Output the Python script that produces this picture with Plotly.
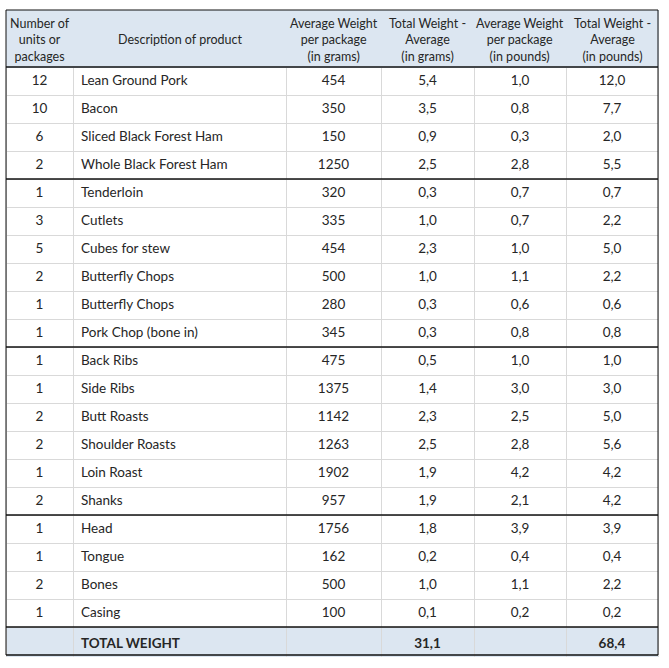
import plotly.graph_objects as go

units = [12, 10, 6, 2, 1, 3, 5, 2, 1, 1, 1, 1, 2, 2, 1, 2, 1, 1, 2, 1]
products = ["Lean Ground Pork", "Bacon", "Sliced Black Forest Ham", "Whole Black Forest Ham",
            "Tenderloin", "Cutlets", "Cubes for stew", "Butterfly Chops", "Butterfly Chops",
            "Pork Chop (bone in)", "Back Ribs", "Side Ribs", "Butt Roasts", "Shoulder Roasts",
            "Loin Roast", "Shanks", "Head", "Tongue", "Bones", "Casing"]
avg_grams = [454, 350, 150, 1250, 320, 335, 454, 500, 280, 345, 475, 1375, 1142, 1263, 1902, 957,
             1756, 162, 500, 100]
total_grams = [5.4, 3.5, 0.9, 2.5, 0.3, 1.0, 2.3, 1.0, 0.3, 0.3, 0.5, 1.4, 2.3, 2.5, 1.9, 1.9,
               1.8, 0.2, 1.0, 0.1]
avg_pounds = [1.0, 0.8, 0.3, 2.8, 0.7, 0.7, 1.0, 1.1, 0.6, 0.8, 1.0, 3.0, 2.5, 2.8, 4.2, 2.1,
              3.9, 0.4, 1.1, 0.2]
total_pounds = [12.0, 7.7, 2.0, 5.5, 0.7, 2.2, 5.0, 2.2, 0.6, 0.8, 1.0, 3.0, 5.0, 5.6, 4.2, 4.2,
                3.9, 0.4, 2.2, 0.2]
total_label = "TOTAL WEIGHT"
total_weight_grams = 31.1
total_weight_pounds = 68.4
group_ends = [4, 10, 16, 20]  # rows after which a thick separator is drawn

headers = ["Number of<br>units or<br>packages", "Description of product",
           "Average Weight<br>per package<br>(in grams)", "Total Weight -<br>Average<br>(in grams)",
           "Average Weight<br>per package<br>(in pounds)", "Total Weight -<br>Average<br>(in pounds)"]


def fmt(v):
    return f"{v:.1f}".replace(".", ",")


col_units = [str(u) for u in units] + [""]
col_prod = products + [f"<b>{total_label}</b>"]
col_avg_g = [str(v) for v in avg_grams] + [""]
col_tot_g = [fmt(v) for v in total_grams] + [f"<b>{fmt(total_weight_grams)}</b>"]
col_avg_p = [fmt(v) for v in avg_pounds] + [""]
col_tot_p = [fmt(v) for v in total_pounds] + [f"<b>{fmt(total_weight_pounds)}</b>"]

W, H = 669, 668
HDR_FILL = "#dce6f1"
TXT = "#262626"
FONT = "Lato"
n = len(units) + 1
fill_col = ["white"] * (n - 1) + [HDR_FILL]

x0, x1 = 6, 658
y_top, hdr_h, row_h = 10, 57, 28
col_w = [67, 213, 95, 93, 92, 92]

y_bottom = y_top + hdr_h + row_h * n

fig = go.Figure(go.Table(
    domain=dict(x=[x0 / W, x1 / W], y=[1 - (y_bottom + 2) / H, 1 - y_top / H]),
    columnwidth=col_w,
    header=dict(
        values=[""] * 6,
        fill_color=HDR_FILL,
        line=dict(color=HDR_FILL, width=1),
        height=hdr_h,
        font=dict(family=FONT, size=12, color=TXT),
    ),
    cells=dict(
        values=[col_units, col_prod, col_avg_g, col_tot_g, col_avg_p, col_tot_p],
        fill_color=[fill_col] * 6,
        line=dict(color="#d9d9d9", width=1),
        align=["center", "left", "center", "center", "center", "center"],
        height=row_h,
        font=dict(family=FONT, size=13.5, color=TXT),
    ),
))


def py(y):
    return 1 - y / H


# header labels, centred on each column
annotations = []
cx = x0
for w, h in zip(col_w, headers):
    annotations.append(dict(
        x=(cx + w / 2) / W, y=py(y_top + hdr_h / 2 + 1), xref="paper", yref="paper",
        text=h, showarrow=False, align="center", xanchor="center", yanchor="middle",
        font=dict(family=FONT, size=12.5, color=TXT),
    ))
    cx += w

shapes = []


def hline(y, w=1.5):
    shapes.append(dict(type="line", xref="paper", yref="paper", x0=x0 / W, x1=x1 / W,
                       y0=py(y), y1=py(y), line=dict(color="#111111", width=w)))


hline(y_top, 1)
hline(y_top + hdr_h, 1.5)
for g in group_ends:
    hline(y_top + hdr_h + row_h * g, 1.5)
hline(y_bottom, 1.5)
for xx in (x0, x1):
    shapes.append(dict(type="line", xref="paper", yref="paper", x0=xx / W, x1=xx / W,
                       y0=py(y_top), y1=py(y_bottom), line=dict(color="#111111", width=1)))

fig.update_layout(
    width=W, height=H,
    margin=dict(l=0, r=0, t=0, b=0),
    paper_bgcolor="white",
    shapes=shapes,
    annotations=annotations,
)

fig.write_html("out.html", config={"displayModeBar": False},
               post_script="document.body.style.margin='0';document.body.style.overflow='hidden';")
